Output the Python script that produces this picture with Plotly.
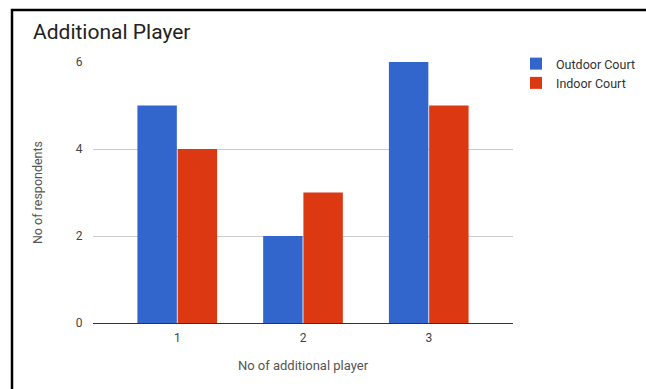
import plotly.graph_objects as go

categories = [1, 2, 3]
tick_labels = ["1", "2", "3"]
outdoor = [5, 2, 6]
indoor = [4, 3, 5]
series_names = ["Outdoor Court", "Indoor Court"]
colors = ["#3366CC", "#DC3912"]

W, H = 646, 389
L, R, T, B = 93, 133, 62, 66
pw, ph = W - L - R, H - T - B

def px(x):
    return (x - L) / pw

def py(y):
    return (H - B - y) / ph

fig = go.Figure()
for name, vals, c in zip(series_names, [outdoor, indoor], colors):
    fig.add_trace(go.Bar(x=categories, y=vals, name=name, marker=dict(color=c, line=dict(width=0))))

border_path = "M {x0},{y0} L {x0},{y1} L {x2},{y1}".format(
    x0=px(12), y0=py(395), y1=py(10), x2=px(700))

fig.update_layout(
    width=W, height=H,
    margin=dict(l=L, r=R, t=T, b=B, autoexpand=False),
    paper_bgcolor="white", plot_bgcolor="white",
    font=dict(family="Roboto", color="#444"),
    barmode="group", bargap=0.36, bargroupgap=0.02,
    title=dict(text="Additional Player", x=33 / W, xanchor="left",
               y=1 - 32 / H, yanchor="middle", font=dict(size=21, color="#222")),
    xaxis=dict(range=[0.33, 3.67], tickvals=categories, ticktext=tick_labels,
               showgrid=False, zeroline=False, showline=False,
               ticks="outside", ticklen=4, tickcolor="rgba(0,0,0,0)",
               tickfont=dict(size=12, color="#444"),
               title=dict(text="No of additional player", font=dict(size=13, color="#555"), standoff=16)),
    yaxis=dict(range=[0, 6], tickvals=[0, 2, 4, 6], showgrid=True, gridcolor="#cccccc",
               zeroline=True, zerolinecolor="#333333", zerolinewidth=1,
               ticks="outside", ticklen=7, tickcolor="rgba(0,0,0,0)",
               tickfont=dict(size=12, color="#444"),
               title=dict(text="No of respondents", font=dict(size=12.5, color="#555"), standoff=30)),
    legend=dict(x=px(516), y=py(49), xanchor="left", yanchor="top", borderwidth=0,
                bgcolor="rgba(255,255,255,0)", itemwidth=30, maxheight=300,
                font=dict(size=12.5, color="#333"), tracegroupgap=0, itemsizing="constant"),
    showlegend=True,
    shapes=[
        dict(type="path", xref="paper", yref="paper", path=border_path,
             line=dict(color="black", width=2.5), fillcolor="rgba(0,0,0,0)"),
    ],
)

fig.write_html("out.html", config={"displayModeBar": False},
               post_script="document.body.style.margin='0';document.body.style.overflow='hidden';")
